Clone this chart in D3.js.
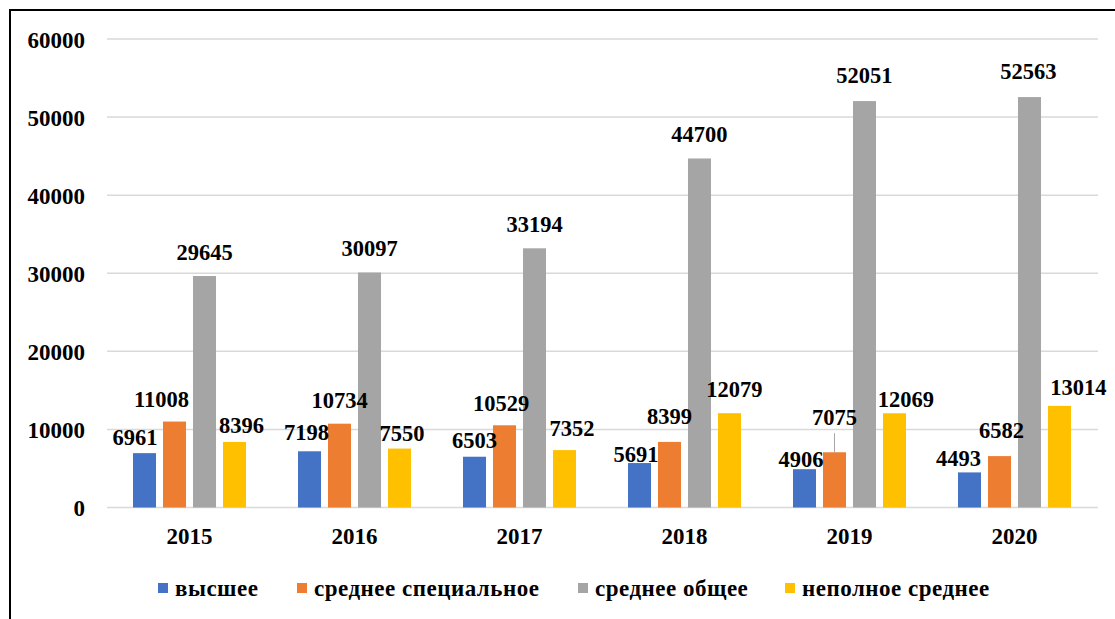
<!DOCTYPE html>
<html>
<head>
<meta charset="utf-8">
<script src="https://cdn.jsdelivr.net/npm/d3@7"></script>
<style>
  html, body { margin: 0; padding: 0; background: #fff; }
</style>
</head>
<body>
<svg id="chart" width="1115" height="619"></svg>
<script>
// ---- data ----
const years = ["2015", "2016", "2017", "2018", "2019", "2020"];
const seriesNames = ["высшее", "среднее специальное", "среднее общее", "неполное среднее"];
const higher = [6961, 7198, 6503, 5691, 4906, 4493];
const secondarySpecial = [11008, 10734, 10529, 8399, 7075, 6582];
const secondaryGeneral = [29645, 30097, 33194, 44700, 52051, 52563];
const incompleteSecondary = [8396, 7550, 7352, 12079, 12069, 13014];
const yTicks = [0, 10000, 20000, 30000, 40000, 50000, 60000];

// ---- layout / style (not data) ----
const FONT = "'Liberation Serif', 'Times New Roman', 'DejaVu Serif', serif";
const colors = ["#4472C4", "#ED7D31", "#A5A5A5", "#FFC000"];
// label nudges per series per year: [dx from bar centre, gap of baseline above bar top]
const labelNudge = [
  [[-9.5, 8], [-3, 11], [0, 9], [-3.5, 1], [-3.5, 2], [-11, 6]],
  [[-13, 15], [0, 16], [-3.5, 14], [0, 18], [0, 27], [2, 18]],
  [[0, 16], [0, 16], [0, 16], [0, 16], [0, 18], [-1, 18]],
  [[7, 9], [2.5, 8], [7.5, 14], [5, 16], [11.5, 6], [19, 11]]
];

const seriesValues = [higher, secondarySpecial, secondaryGeneral, incompleteSecondary];
const svg = d3.select("#chart");

function styleText(sel, size) {
  sel.attr("font-family", FONT).style("font-family", FONT)
     .attr("font-weight", "bold").attr("font-size", size + "px").attr("fill", "#000");
}

// border (top and left)
svg.append("line").attr("x1", 10).attr("y1", 10).attr("x2", 1115).attr("y2", 10)
  .attr("stroke", "#000").attr("stroke-width", 2);
svg.append("line").attr("x1", 10).attr("y1", 9).attr("x2", 10).attr("y2", 619)
  .attr("stroke", "#000").attr("stroke-width", 2);

const plot = { left: 107, right: 1097, top: 39, bottom: 507.5 };

const y = d3.scaleLinear().domain([0, 60000]).range([plot.bottom, plot.top]);
const x0 = d3.scaleBand().domain(years).range([plot.left, plot.right])
  .paddingInner(0.2727).paddingOuter(0.1364);
const x1 = d3.scaleBand().domain(d3.range(seriesNames.length)).range([0, x0.bandwidth()])
  .paddingInner(0.233).paddingOuter(0.1167);

// gridlines
svg.append("g").selectAll("line").data(yTicks).join("line")
  .attr("x1", plot.left).attr("x2", plot.right + 1)
  .attr("y1", d => y(d)).attr("y2", d => y(d))
  .attr("stroke", "#d9d9d9").attr("stroke-width", 1.5);

// y axis labels
const yAxis = d3.axisLeft(y).tickValues(yTicks).tickSize(0).tickPadding(0).tickFormat(d3.format("d"));
const yg = svg.append("g").attr("transform", "translate(85,0)").call(yAxis);
yg.attr("font-family", null).attr("font-size", null);
yg.select(".domain").remove();
styleText(yg.selectAll("text"), 23);
yg.selectAll("text").attr("dy", "0.35em");

// x axis labels
const xAxis = d3.axisBottom(x0).tickSize(0).tickPadding(0);
const xg = svg.append("g").attr("transform", `translate(0,${plot.bottom})`).call(xAxis);
xg.attr("font-family", null).attr("font-size", null);
xg.select(".domain").remove();
styleText(xg.selectAll("text"), 23);
xg.selectAll("text").attr("dy", null).attr("y", 36);

// bars
const groups = svg.append("g").selectAll("g").data(years).join("g")
  .attr("transform", d => `translate(${x0(d)},0)`);

groups.selectAll("rect").data((yr, i) => seriesValues.map((vals, s) => ({ s, v: vals[i], i })))
  .join("rect")
  .attr("x", d => x1(d.s))
  .attr("width", x1.bandwidth())
  .attr("y", d => y(d.v))
  .attr("height", d => y(0) - y(d.v))
  .attr("fill", d => colors[d.s]);

// leader line for 2019 "среднее специальное"
{
  const i = 4, s = 1;
  const cx = x0(years[i]) + x1(s) + x1.bandwidth() / 2;
  svg.append("line").attr("x1", cx).attr("x2", cx)
    .attr("y1", y(seriesValues[s][i]) - labelNudge[s][i][1] + 8).attr("y2", y(seriesValues[s][i]))
    .attr("stroke", "#a6a6a6").attr("stroke-width", 1);
}

// value labels
const vl = groups.selectAll("text.val").data((yr, i) => seriesValues.map((vals, s) => ({ s, v: vals[i], i })))
  .join("text").attr("class", "val")
  .attr("x", d => x1(d.s) + x1.bandwidth() / 2 + labelNudge[d.s][d.i][0])
  .attr("y", d => y(d.v) - labelNudge[d.s][d.i][1])
  .attr("text-anchor", "middle")
  .text(d => d.v);
styleText(vl, 22.5);

// legend
const legendX = [158, 297, 578, 785];
const lg = svg.append("g").selectAll("g").data(seriesNames).join("g")
  .attr("transform", (d, i) => `translate(${legendX[i]},583)`);
lg.append("rect").attr("width", 10).attr("height", 10).attr("fill", (d, i) => colors[i]);
const lt = lg.append("text").attr("x", 17).attr("y", 5).attr("dy", "0.35em")
  .attr("letter-spacing", "0.5px").text(d => d);
styleText(lt, 23);
</script>
</body>
</html>
